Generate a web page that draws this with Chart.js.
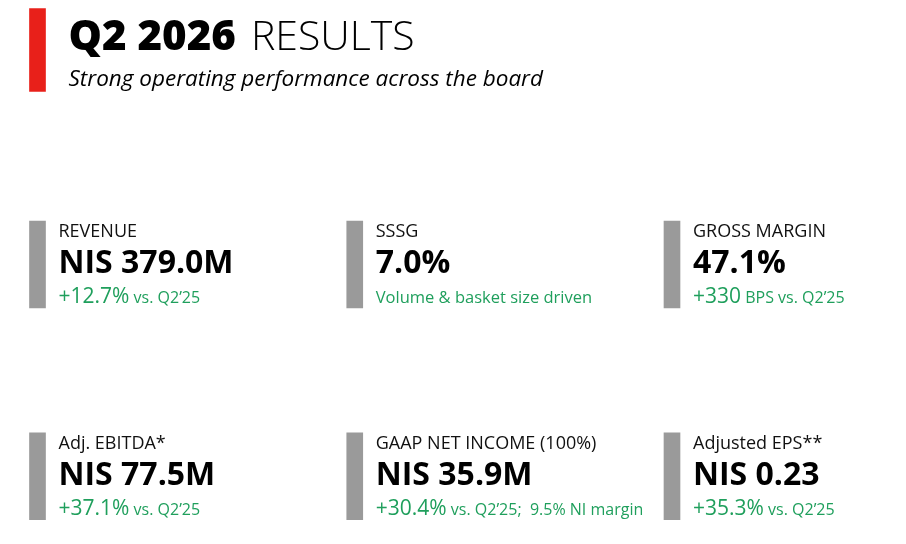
<!DOCTYPE html>
<html>
<head>
<meta charset="utf-8">
<script src="https://cdn.jsdelivr.net/npm/chart.js@4.4.1/dist/chart.umd.min.js"></script>
<style>
  html, body { margin: 0; padding: 0; background: #fff; overflow: hidden; }
  #wrap { position: relative; width: 906px; height: 544px; }
</style>
</head>
<body>
<div id="wrap"><canvas id="kpiChart"></canvas></div>
<script>
const periodLabel = "Q2 2026";
const headline = "RESULTS";
const subtitle = "Strong operating performance across the board";

const kpiLabels = ["REVENUE", "SSSG", "GROSS MARGIN", "Adj. EBITDA*", "GAAP NET INCOME (100%)", "Adjusted EPS**"];
const kpiValues = ["NIS 379.0M", "7.0%", "47.1%", "NIS 77.5M", "NIS 35.9M", "NIS 0.23"];
const kpiChanges = ["+12.7%", "", "+330", "+37.1%", "+30.4%", "+35.3%"];
const kpiNotes = ["vs. Q2’25", "Volume & basket size driven", "BPS vs. Q2’25", "vs. Q2’25", "vs. Q2’25;  9.5% NI margin", "vs. Q2’25"];

const FONT = '"Open Sans", "Noto Sans", sans-serif';
const GREEN = '#1f9f5c';

// accent bars: red one for the header, grey one per KPI (3 columns x 2 rows)
const points = [{ x: 0, y: [-0.21, 0.182] }];
const colors = ['#e8201a'];
kpiLabels.forEach((label, i) => {
  const col = i % 3;
  const row = 1 + Math.floor(i / 3);
  points.push({ x: col, y: [row - 0.205, row + 0.205] });
  colors.push('#9a9a9a');
});

// draws header and KPI texts next to their accent bars
const kpiText = {
  id: 'kpiText',
  afterDatasetsDraw(chart) {
    const ctx = chart.ctx;
    const bars = chart.getDatasetMeta(0).data;
    ctx.save();
    ctx.textAlign = 'left';
    ctx.textBaseline = 'alphabetic';

    const t = bars[0];
    const tTop = Math.min(t.y, t.base);
    let x = t.x + 31;
    ctx.fillStyle = '#000';
    ctx.font = '800 42px ' + FONT;
    ctx.fillText(periodLabel, x, tTop + 42);
    x += ctx.measureText(periodLabel).width + 15;
    ctx.font = '300 41px ' + FONT;
    ctx.fillText(headline, x, tTop + 42);
    ctx.font = 'italic 22.5px ' + FONT;
    ctx.fillText(subtitle, t.x + 31, tTop + 78);

    for (let i = 0; i < kpiLabels.length; i++) {
      const bar = bars[i + 1];
      const top = Math.min(bar.y, bar.base);
      const tx = bar.x + 21;
      ctx.fillStyle = '#111';
      ctx.font = '18px ' + FONT;
      ctx.fillText(kpiLabels[i], tx, top + 16);
      ctx.fillStyle = '#000';
      ctx.font = 'bold 32px ' + FONT;
      ctx.fillText(kpiValues[i], tx, top + 52);

      ctx.fillStyle = GREEN;
      let nx = tx;
      let note = kpiNotes[i];
      if (kpiChanges[i]) {
        ctx.font = '21px ' + FONT;
        ctx.fillText(kpiChanges[i], nx, top + 82);
        nx += ctx.measureText(kpiChanges[i]).width;
        note = ' ' + note;
      }
      ctx.font = (kpiChanges[i] ? '16px ' : '16.5px ') + FONT;
      ctx.fillText(note, nx, top + 82);
    }
    ctx.restore();
  }
};

new Chart(document.getElementById('kpiChart'), {
  type: 'bar',
  data: {
    datasets: [{
      data: points,
      backgroundColor: colors,
      barThickness: 16,
      borderWidth: 0,
      clip: false
    }]
  },
  options: {
    responsive: true,
    maintainAspectRatio: false,
    animation: false,
    layout: { padding: { left: 37.5, right: 234, top: 0, bottom: 0 } },
    scales: {
      x: { type: 'linear', offset: false, min: 0, max: 2, display: false },
      y: { type: 'linear', reverse: true, min: -0.25, max: 2.32, display: false }
    },
    plugins: {
      legend: { display: false },
      tooltip: { enabled: false }
    }
  },
  plugins: [kpiText]
});
</script>
</body>
</html>
